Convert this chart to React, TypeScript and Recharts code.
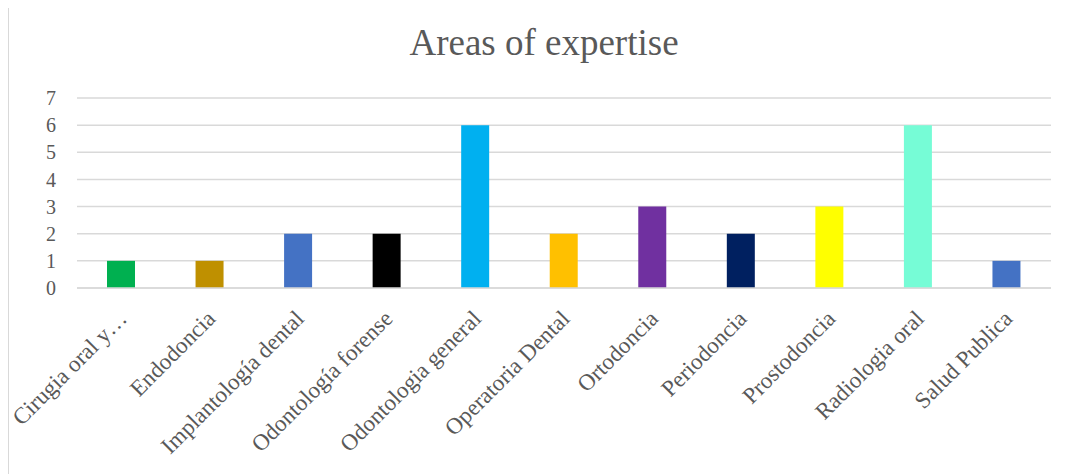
import React from "react";
import { BarChart, Bar, XAxis, YAxis, CartesianGrid, Cell } from "recharts";

const categories = [
  "Cirugia oral y…",
  "Endodoncia",
  "Implantología dental",
  "Odontología forense",
  "Odontologia general",
  "Operatoria Dental",
  "Ortodoncia",
  "Periodoncia",
  "Prostodoncia",
  "Radiologia oral",
  "Salud Publica",
];
const counts = [1, 1, 2, 2, 6, 2, 3, 2, 3, 6, 1];
const barColors = [
  "#00B050",
  "#BF9000",
  "#4472C4",
  "#000000",
  "#00B0F0",
  "#FFC000",
  "#7030A0",
  "#002060",
  "#FFFF00",
  "#76FCD6",
  "#4472C4",
];
const yTicks = [0, 1, 2, 3, 4, 5, 6, 7];

const serif = "'Liberation Serif', serif";

const data = categories.map((name, i) => ({ name, value: counts[i], color: barColors[i] }));

function AngledTick({ x, y, payload }: any) {
  return (
    <g transform={`translate(${x + 7},${y + 24})`}>
      <text
        textAnchor="end"
        transform="rotate(-45)"
        fill="#595959"
        fontSize={23}
        fontFamily={serif}
      >
        {payload.value}
      </text>
    </g>
  );
}

export default function App() {
  return (
    <div
      style={{
        position: "relative",
        margin: "-8px 0 0 -8px",
        width: 1082,
        height: 474,
        overflow: "hidden",
        background: "#fff",
      }}
    >
      <BarChart
        width={1082}
        height={474}
        data={data}
        margin={{ top: 98, right: 31, left: 37, bottom: 36 }}
      >
        <CartesianGrid vertical={false} stroke="#d9d9d9" strokeWidth={1.5} />
        <XAxis
          dataKey="name"
          interval={0}
          height={150}
          tick={<AngledTick />}
          tickLine={false}
          axisLine={{ stroke: "#d9d9d9", strokeWidth: 1.5 }}
        />
        <YAxis
          domain={[0, 7]}
          ticks={yTicks}
          interval={0}
          width={40}
          tickMargin={15}
          axisLine={false}
          tickLine={false}
          tick={{ fill: "#595959", fontSize: 20, fontFamily: serif }}
        />
        <Bar dataKey="value" barSize={28} isAnimationActive={false}>
          {data.map((d, i) => (
            <Cell key={i} fill={d.color} />
          ))}
        </Bar>
      </BarChart>
      <div
        style={{
          position: "absolute",
          left: 7,
          top: 3,
          width: 1070,
          height: 490,
          borderTop: "2px solid #d9d9d9",
          borderLeft: "2px solid #d9d9d9",
          borderRight: "3px solid #d4d4d4",
          pointerEvents: "none",
        }}
      />
      <div
        style={{
          position: "absolute",
          top: 24,
          left: 3,
          width: 1082,
          textAlign: "center",
          fontFamily: serif,
          fontSize: 37,
          lineHeight: "37px",
          color: "#595959",
        }}
      >
        Areas of expertise
      </div>
    </div>
  );
}
